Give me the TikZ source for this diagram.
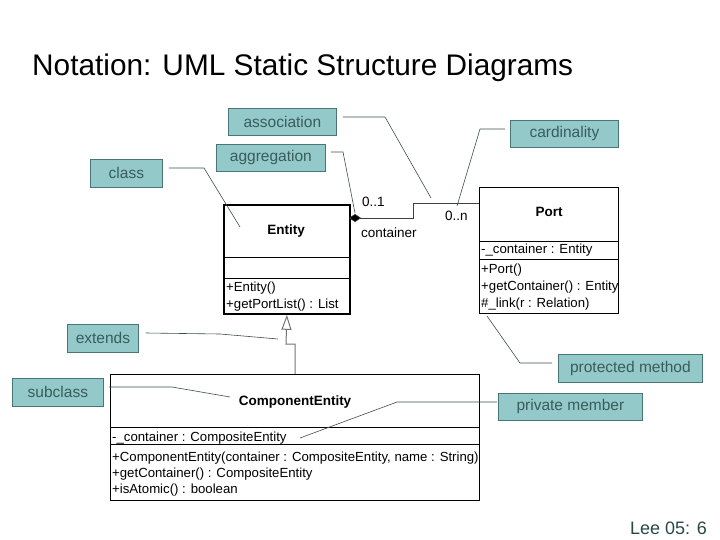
\documentclass[tikz,border=0pt]{standalone}
\usepackage{fontspec}
\setmainfont{Liberation Sans}
\usetikzlibrary{arrows.meta,calc}
\definecolor{calfill}{RGB}{147,201,201}
\definecolor{calborder}{RGB}{72,118,118}
\definecolor{caltext}{RGB}{58,92,92}
\definecolor{leader}{RGB}{60,78,78}
\definecolor{footer}{RGB}{40,72,72}
\begin{document}
\begin{tikzpicture}[x=1pt,y=-1pt,
  callout/.style={draw=calborder, fill=calfill, text=caltext, line width=0.8pt,
    inner sep=0pt, anchor=north west, font=\fontsize{15.5}{18}\selectfont},
  lead/.style={draw=leader, line width=0.6pt},
  umlbox/.style={draw=black, line width=1.2pt, anchor=north west, inner sep=0pt},
  member/.style={anchor=base west, inner sep=0pt, font=\fontsize{13.2}{16}\selectfont},
  cname/.style={anchor=base, inner sep=0pt, font=\fontsize{13.5}{16}\selectfont\bfseries},
  divider/.style={draw=black, line width=0.8pt},
  lbl/.style={anchor=base west, inner sep=0pt, font=\fontsize{13.5}{16}\selectfont}]
\useasboundingbox (0,0) rectangle (720,540);

% title and footer
\node[anchor=base west, inner sep=0pt, font=\fontsize{29.8}{34}\selectfont] (title) at (32,76) {Notation: UML Static Structure Diagrams};
\node[anchor=base east, inner sep=0pt, text=footer, font=\fontsize{18}{21}\selectfont] (footer) at (707,534) {Lee 05: 6};

% Entity class
\node[umlbox, line width=1.8pt, minimum width=126pt, minimum height=109pt] (entity) at (223,204) {};
\draw[divider] (223,257) -- (349,257);
\draw[divider] (223,278) -- (349,278);
\node[cname] (entityname) at (286,235) {Entity};
\node[member] (e1) at (226,291) {+Entity()};
\node[member] (e2) at (226,308) {+getPortList() : List};

% Port class
\node[umlbox, minimum width=139pt, minimum height=126pt] (port) at (479,187) {};
\draw[divider] (479,241) -- (618,241);
\draw[divider] (479,259) -- (618,259);
\node[cname] (portname) at (549,217) {Port};
\node[member] (p0) at (481,254) {-\_container : Entity};
\node[member] (p1) at (481,273) {+Port()};
\node[member] (p2) at (481,290) {+getContainer() : Entity};
\node[member] (p3) at (481,307) {\#\_link(r : Relation)};

% ComponentEntity class
\node[umlbox, minimum width=369pt, minimum height=126pt] (comp) at (110,374) {};
\draw[divider] (110,427) -- (479,427);
\draw[divider] (110,444) -- (479,444);
\node[cname] (compname) at (295,405) {ComponentEntity};
\node[member] (c0) at (112,441) {-\_container : CompositeEntity};
\node[member] (c1) at (112,461) {+ComponentEntity(container : CompositeEntity, name : String)};
\node[member] (c2) at (112,477) {+getContainer() : CompositeEntity};
\node[member] (c3) at (112,493) {+isAtomic() : boolean};

% aggregation
\coordinate (aggstart) at (349,218);
\coordinate (aggbend1) at (413,218);
\coordinate (aggbend2) at (413,203);
\coordinate (aggend) at (479,203);
\draw[line width=0.8pt, draw=black!75, {Diamond[length=12pt,width=8pt,fill=black,line width=0.5pt]}-] (aggstart) -- (aggbend1) -- (aggbend2) -- (aggend);
\node[lbl] (m1) at (362,207) {0..1};
\node[lbl] (rolename) at (361,237) {container};
\node[lbl] (m2) at (445,221) {0..n};

% generalization
\coordinate (gen1) at (295,344);
\coordinate (gen2) at (286,344);
\draw[draw=black!55, line width=1pt, -{Triangle[open,length=15pt,width=10pt,fill=white]}] (comp.north -| gen1) -- (gen1) -- (gen2) -- (entity.south);

% callouts
\node[callout, minimum width=108pt, minimum height=27pt] (association) at (228,108) {association};
\node[callout, minimum width=109pt, minimum height=27pt] (aggregation) at (216,144) {aggregation};
\node[callout, minimum width=72pt, minimum height=28pt] (class) at (90,159) {class};
\node[callout, minimum width=108pt, minimum height=27pt] (cardinality) at (510,120) {cardinality};
\node[callout, minimum width=71pt, minimum height=28pt] (extends) at (67,324) {extends};
\node[callout, minimum width=91pt, minimum height=28pt] (subclass) at (12,378) {subclass};
\node[callout, minimum width=144pt, minimum height=28pt] (protected) at (558,354) {protected method};
\node[callout, minimum width=144pt, minimum height=27pt] (private) at (498,393) {private member};

% leader lines
\coordinate (classA) at (204,168);
\coordinate (classB) at (240,227);
\draw[lead] (class.east |- classA) ++(6,0) -- (classA) -- (classB);
\coordinate (aggrA) at (343,152);
\coordinate (aggrB) at (355,213);
\draw[lead] (aggregation.east |- aggrA) ++(5,0) -- (aggrA) -- (aggrB);
\coordinate (assocA) at (385,117);
\coordinate (assocB) at (431,198);
\draw[lead] (association.east |- assocA) ++(6,0) -- (assocA) -- (assocB);
\coordinate (cardA) at (480,129);
\coordinate (cardB) at (457,206);
\draw[lead] (cardinality.west |- cardA) ++(-5,0) -- (cardA) -- (cardB);
\coordinate (extA) at (220,334);
\coordinate (extB) at (278,339);
\draw[lead] (extends.east |- 0,333) ++(7,0) -- (extA) -- (extB);
\coordinate (subA) at (172,387);
\coordinate (subB) at (230,397);
\draw[lead] (subclass.east |- subA) ++(5,0) -- (subA) -- (subB);
\coordinate (protA) at (520,363);
\coordinate (protB) at (487,316);
\draw[lead] (protected.west |- protA) ++(-6,0) -- (protA) -- (protB);
\coordinate (privA) at (397,402);
\coordinate (privB) at (300,438);
\draw[lead] (private.west |- privA) ++(-1,0) -- (privA) -- (privB);
\end{tikzpicture}
\end{document}
